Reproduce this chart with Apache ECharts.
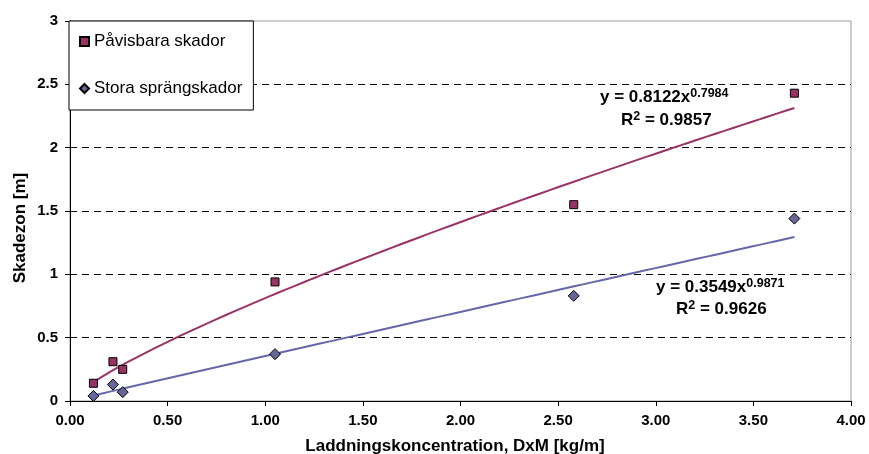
<!DOCTYPE html>
<html>
<head>
<meta charset="utf-8">
<script src="https://cdn.jsdelivr.net/npm/echarts@6/dist/echarts.min.js"></script>
<style>
  html, body { margin: 0; padding: 0; background: #fff; }
  #chart { width: 869px; height: 454px; }
</style>
</head>
<body>
<div id="chart"></div>
<script>
// Measured charge concentration (x) and damage zone (y)
const xPavisbara = [0.12, 0.22, 0.27, 1.05, 2.58, 3.71];
const yPavisbara = [0.14, 0.31, 0.25, 0.94, 1.55, 2.43];
const xStora = [0.12, 0.22, 0.27, 1.05, 2.58, 3.71];
const yStora = [0.04, 0.13, 0.07, 0.37, 0.83, 1.44];

// Power trendlines y = a * x^b, fitted over the measured range
const fitPavisbara = { a: 0.8122, b: 0.7984, r2: 0.9857 };
const fitStora = { a: 0.3549, b: 0.9871, r2: 0.9626 };
const fitRange = [0.12, 3.71];

const xTicks = ['0.00', '0.50', '1.00', '1.50', '2.00', '2.50', '3.00', '3.50', '4.00'];
const yTicks = ['0', '0.5', '1', '1.5', '2', '2.5', '3'];

const FONT = '"Liberation Sans", Arial, sans-serif';

function pairs(xs, ys) { return xs.map((x, i) => [x, ys[i]]); }
function trend(fit) {
  const pts = [];
  const n = 80;
  for (let i = 0; i <= n; i++) {
    const x = fitRange[0] + (fitRange[1] - fitRange[0]) * i / n;
    pts.push([x, fit.a * Math.pow(x, fit.b)]);
  }
  return pts;
}
function eqText(fit) {
  return '{b|y = ' + fit.a.toFixed(4) + 'x}{s|' + fit.b.toFixed(4) + '}';
}
function r2Text(fit) {
  return '{b|R}{s|2}{b| = ' + fit.r2.toFixed(4) + '}';
}
const rich = {
  b: { fontFamily: FONT, fontWeight: 'bold', fontSize: 17, lineHeight: 20, color: '#000' },
  s: { fontFamily: FONT, fontWeight: 'bold', fontSize: 12.5, lineHeight: 20, verticalAlign: 'top', color: '#000' }
};

const chart = echarts.init(document.getElementById('chart'), null, { renderer: 'canvas' });
chart.setOption({
  animation: false,
  backgroundColor: '#fff',
  grid: {
    left: 70, right: 18, top: 21, bottom: 53,
    outerBoundsMode: 'none', containLabel: false,
    show: true, borderColor: '#999', borderWidth: 1
  },
  legend: {
    orient: 'vertical',
    left: 69, top: 21,
    padding: [12, 11, 13, 10],
    itemGap: 30,
    itemWidth: 9, itemHeight: 9,
    itemTextGap: 7,
    backgroundColor: '#fff',
    borderColor: '#000', borderWidth: 1, borderRadius: 0,
    textStyle: { fontFamily: FONT, fontSize: 17, color: '#000' },
    data: [
      { name: 'Påvisbara skador', icon: 'rect' },
      { name: 'Stora sprängskador', icon: 'diamond' }
    ]
  },
  xAxis: {
    type: 'value', min: 0, max: 4, interval: 0.5,
    axisLine: { show: true, onZero: false, lineStyle: { color: '#000', width: 1 } },
    axisTick: { show: true, inside: false, length: 5, lineStyle: { color: '#000' } },
    axisLabel: {
      fontFamily: FONT, fontWeight: 'bold', fontSize: 15, color: '#000', margin: 12,
      formatter: (v) => xTicks[Math.round(v / 0.5)]
    },
    splitLine: { show: false }
  },
  yAxis: {
    type: 'value', min: 0, max: 3, interval: 0.5,
    axisLine: { show: true, onZero: false, lineStyle: { color: '#000', width: 1 } },
    axisTick: { show: true, inside: false, length: 5, lineStyle: { color: '#000' } },
    axisLabel: {
      fontFamily: FONT, fontWeight: 'bold', fontSize: 15, color: '#000', margin: 12,
      formatter: (v) => yTicks[Math.round(v / 0.5)]
    },
    splitLine: {
      show: true, showMinLine: false, showMaxLine: false,
      lineStyle: { color: '#000', width: 1, type: [7, 5] }
    }
  },
  series: [
    {
      name: 'Påvisbara skador trend', type: 'line', data: trend(fitPavisbara),
      showSymbol: false, symbol: 'none', silent: true,
      lineStyle: { color: '#993366', width: 2 }, z: 2
    },
    {
      name: 'Stora sprängskador trend', type: 'line', data: trend(fitStora),
      showSymbol: false, symbol: 'none', silent: true,
      lineStyle: { color: '#6666aa', width: 2 }, z: 2
    },
    {
      name: 'Påvisbara skador', type: 'scatter', data: pairs(xPavisbara, yPavisbara),
      symbol: 'rect', symbolSize: 8,
      itemStyle: { color: '#993366', borderColor: '#000', borderWidth: 1, opacity: 1 }, z: 3
    },
    {
      name: 'Stora sprängskador', type: 'scatter', data: pairs(xStora, yStora),
      symbol: 'diamond', symbolSize: 11,
      itemStyle: { color: '#666699', borderColor: '#000', borderWidth: 1, opacity: 1 }, z: 3
    }
  ],
  graphic: [
    // axis titles
    {
      type: 'text', x: 455, y: 446, z: 10,
      style: {
        text: 'Laddningskoncentration, DxM [kg/m]', fontFamily: FONT, fontWeight: 'bold',
        fontSize: 17, fill: '#000', align: 'center', verticalAlign: 'middle'
      }
    },
    {
      type: 'text', x: 20, y: 228, rotation: Math.PI / 2, z: 10,
      style: {
        text: 'Skadezon [m]', fontFamily: FONT, fontWeight: 'bold',
        fontSize: 17, fill: '#000', align: 'center', verticalAlign: 'middle'
      }
    },
    // trendline equations
    { type: 'text', left: 600, top: 87, z: 10, style: { text: eqText(fitPavisbara), rich: rich } },
    { type: 'text', left: 621, top: 110, z: 10, style: { text: r2Text(fitPavisbara), rich: rich } },
    { type: 'text', left: 656, top: 277, z: 10, style: { text: eqText(fitStora), rich: rich } },
    { type: 'text', left: 676, top: 299, z: 10, style: { text: r2Text(fitStora), rich: rich } }
  ]
});
</script>
</body>
</html>
